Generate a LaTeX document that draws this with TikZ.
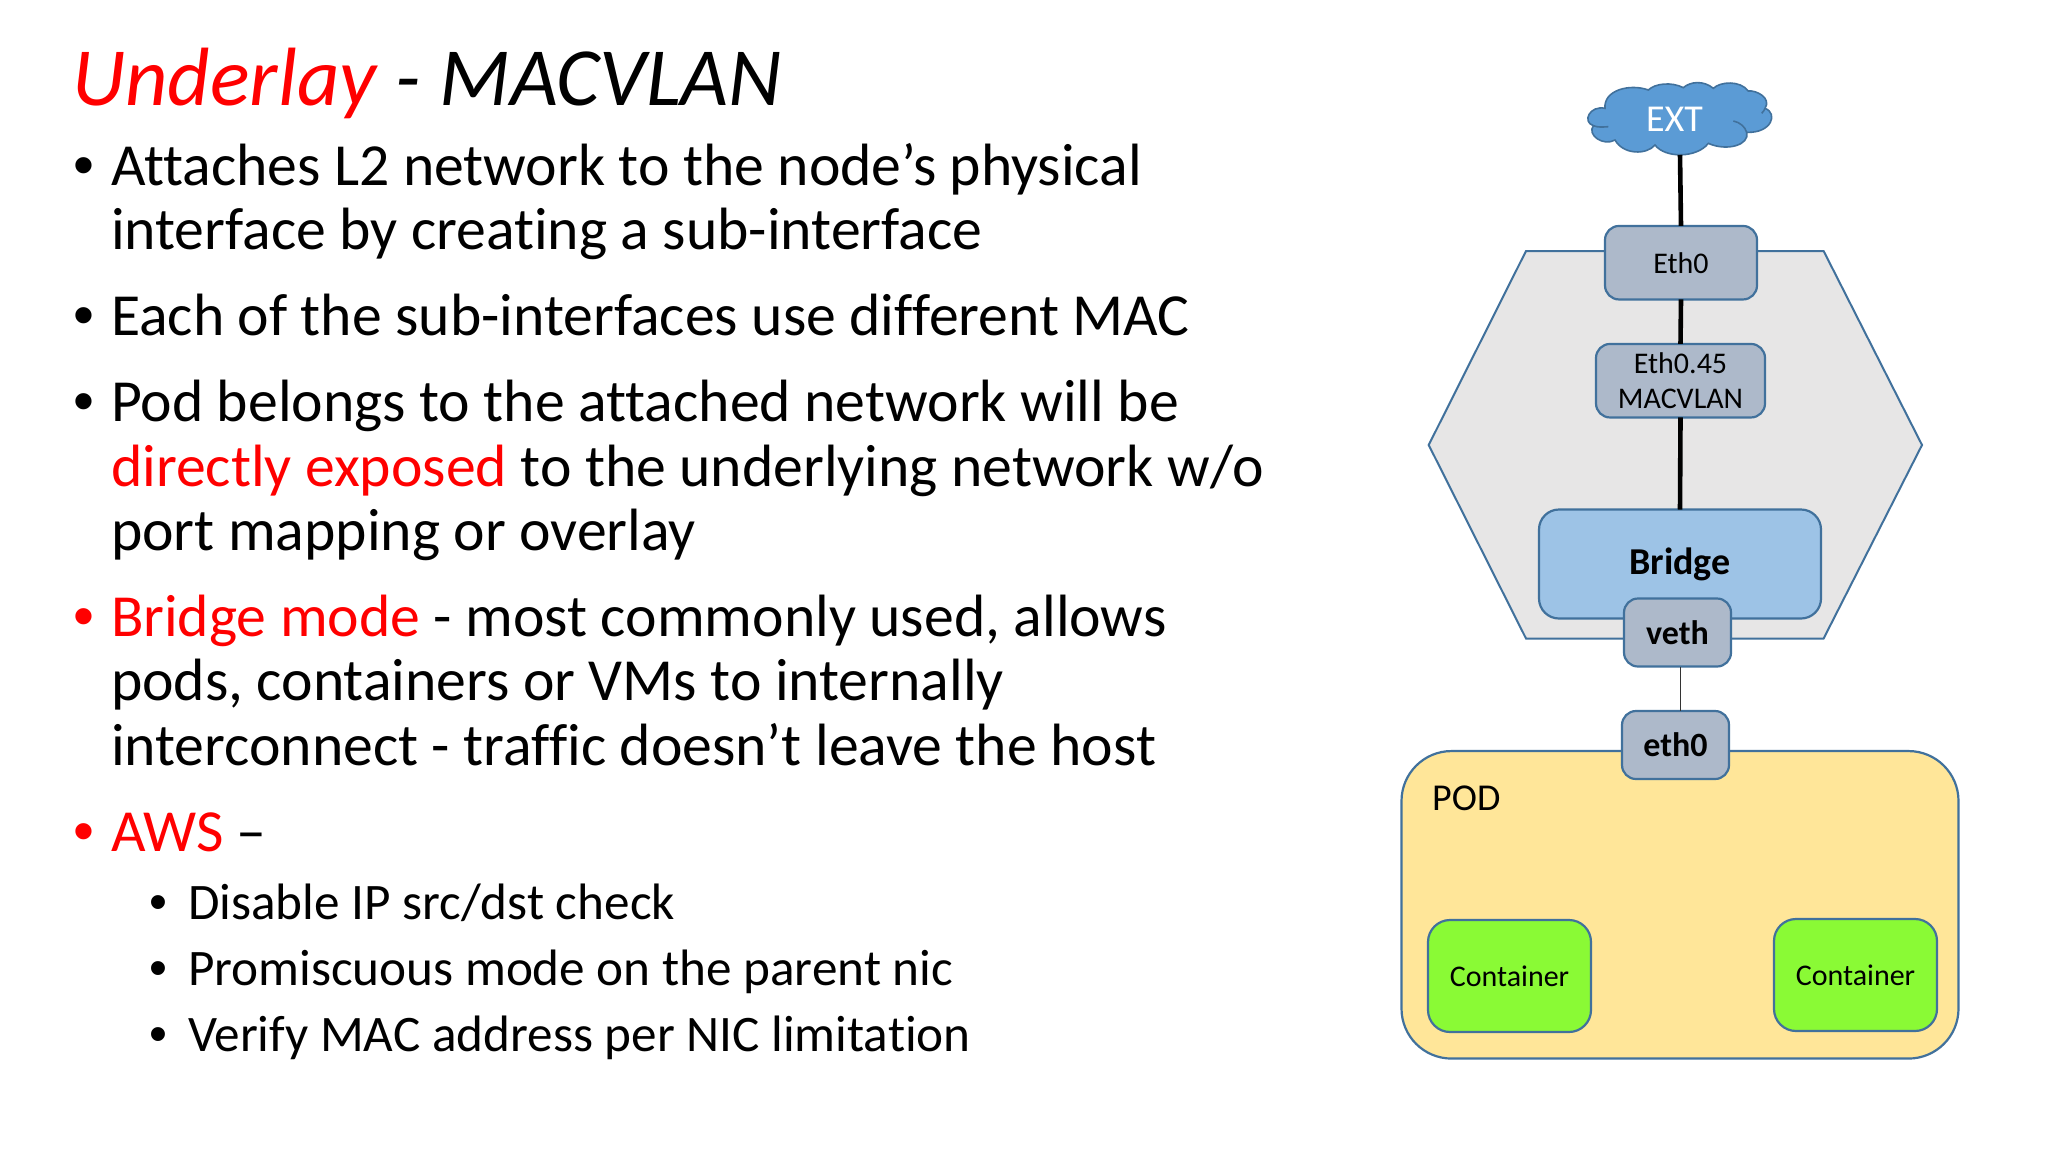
\documentclass[tikz,border=0pt]{standalone}
\usepackage{fontspec}
\setmainfont[Ligatures={NoCommon}]{Carlito}
\newfontfamily\bulletfont{Liberation Sans}
\definecolor{edge}{HTML}{41719C}
\definecolor{hexfill}{HTML}{E7E6E6}
\definecolor{ifacefill}{HTML}{ADB9CA}
\definecolor{bridgefill}{HTML}{9DC3E6}
\definecolor{podfill}{HTML}{FFE699}
\definecolor{contfill}{HTML}{8AFA35}
\definecolor{cloudfill}{HTML}{5B9BD5}
\definecolor{redtext}{HTML}{FF0000}
\tikzset{
  box/.style={draw=edge,line width=2.2pt,rounded corners=14pt,inner sep=0pt,outer sep=0pt,align=center},
  iface/.style={box,fill=ifacefill,text=black},
  body/.style={anchor=base west,inner sep=0pt,outer sep=0pt,font=\fontsize{59.7}{65}\selectfont},
  sub/.style={anchor=base west,inner sep=0pt,outer sep=0pt,font=\fontsize{51.2}{60}\selectfont},
  bigdot/.style={anchor=base west,inner sep=0pt,outer sep=0pt,font=\fontsize{59.7}{65}\bulletfont},
  smalldot/.style={anchor=base west,inner sep=0pt,outer sep=0pt,font=\fontsize{51.2}{60}\bulletfont},
  thick link/.style={line width=4.6pt,black},
  thin link/.style={line width=1.2pt,black!80}
}
\begin{document}
\begin{tikzpicture}[x=1pt,y=-1pt]
\useasboundingbox (0,0) rectangle (2048,1152);
\fill[white] (0,0) rectangle (2048,1152);
% title
\node[anchor=base west,inner sep=0pt,font=\fontsize{82.7}{90}\selectfont\itshape] (title) at (72,105) {\textcolor{redtext}{Underlay} - MACVLAN};
% bullets
\node[body] (b1a) at (111,185) {Attaches L2 network to the node’s physical};
\node[body] (b1b) at (111,249.5) {interface by creating a sub-interface};
\node[body] (b2) at (111,335.5) {Each of the sub-interfaces use different MAC};
\node[body] (b3a) at (111,421) {Pod belongs to the attached network will be};
\node[body] (b3b) at (111,486) {\textcolor{redtext}{directly exposed} to the underlying network w/o};
\node[body] (b3c) at (111,550.5) {port mapping or overlay};
\node[body] (b4a) at (111,636) {\textcolor{redtext}{Bridge mode} - most commonly used, allows};
\node[body] (b4b) at (111,700) {pods, containers or VMs to internally};
\node[body] (b4c) at (111,765) {interconnect - traffic doesn’t leave the host};
\node[body] (b5) at (111,851.5) {\textcolor{redtext}{AWS} –};
\node[bigdot] (d1) at (73,185) {•};
\node[bigdot] (d2) at (73,335.5) {•};
\node[bigdot] (d3) at (73,421) {•};
\node[bigdot,text=redtext] (d4) at (73,636) {•};
\node[bigdot,text=redtext] (d5) at (73,851.5) {•};
\node[sub] (s1) at (188,919.5) {Disable IP src/dst check};
\node[sub] (s2) at (188,985) {Promiscuous mode on the parent nic};
\node[sub] (s3) at (188,1051.5) {Verify MAC address per NIC limitation};
\node[smalldot] (e1) at (149,919.5) {•};
\node[smalldot] (e2) at (149,985) {•};
\node[smalldot] (e3) at (149,1051.5) {•};
% containers of the diagram
\draw[draw=edge,line width=2pt,fill=hexfill] (1526,251) -- (1823.6,251) -- (1922,445) -- (1823.6,638.5) -- (1526,638.5) -- (1428.7,445) -- cycle;
\node[box,fill=podfill,rounded corners=50pt,minimum width=557pt,minimum height=307.5pt] (pod) at (1680,904.8) {};
\node[anchor=base west,inner sep=0pt,font=\fontsize{38}{40}\selectfont] (podlabel) at (1432,810) {POD};
% cloud
\begin{scope}[shift={(1580,75)},x=0.33333pt,y=-0.33333pt]
\draw[draw=edge,line width=1.6pt,fill=cloudfill]
  (75,100) .. controls (30,90) and (5,140) .. (40,152)
  .. controls (20,180) and (70,215) .. (105,195)
  .. controls (130,240) and (200,240) .. (225,210)
  .. controls (255,250) and (350,250) .. (385,205)
  .. controls (440,230) and (510,210) .. (500,172)
  .. controls (575,175) and (595,115) .. (555,100)
  .. controls (575,70) and (530,45) .. (505,48)
  .. controls (480,15) and (420,20) .. (400,40)
  .. controls (370,15) and (330,20) .. (310,38)
  .. controls (275,20) and (225,25) .. (205,45)
  .. controls (150,25) and (70,45) .. cycle;
\draw[draw=edge,line width=1.6pt] (40,152) .. controls (55,158) and (70,156) .. (85,155);
\draw[draw=edge,line width=1.6pt] (460,138) .. controls (480,142) and (495,155) .. (500,172);
\draw[draw=edge,line width=1.6pt] (545,115) .. controls (550,110) and (553,105) .. (555,100);
\end{scope}
\coordinate (extfoot) at (1680,155);
\node[inner sep=0pt,text=white,font=\fontsize{38}{40}\selectfont] (ext) at (1674.5,119) {EXT};
% nodes
\node[iface,minimum width=152pt,minimum height=73.5pt,font=\fontsize{30}{34}\selectfont] (eth0up) at (1681,262.7) {Eth0};
\node[iface,minimum width=169pt,minimum height=73.5pt,font=\fontsize{30}{35}\selectfont] (macvlan) at (1680.5,380.7) {Eth0.45\\MACVLAN};
\node[box,fill=bridgefill,rounded corners=20pt,minimum width=282pt,minimum height=109pt,font=\fontsize{38}{40}\selectfont\bfseries] (bridge) at (1680,564) {\raisebox{-3pt}{Bridge}};
\node[iface,minimum width=107pt,minimum height=68pt,font=\fontsize{34}{36}\selectfont\bfseries] (veth) at (1677.5,632.5) {veth};
\node[iface,minimum width=107pt,minimum height=68pt,font=\fontsize{34}{36}\selectfont\bfseries] (eth0pod) at (1675.5,745) {eth0};
\node[box,fill=contfill,rounded corners=22pt,minimum width=163pt,minimum height=112pt,font=\fontsize{30}{34}\selectfont] (c1) at (1509.5,976) {Container};
\node[box,fill=contfill,rounded corners=22pt,minimum width=163pt,minimum height=112pt,font=\fontsize{30}{34}\selectfont] (c2) at (1855.5,975) {Container};
% connectors
\draw[thick link] (extfoot) -- (eth0up.north);
\draw[thick link] (eth0up.south) -- (macvlan.north);
\draw[thick link] (macvlan.south) -- (bridge.north);
\draw[thin link] ([xshift=3pt]veth.south) -- ([xshift=5pt]eth0pod.north);
\end{tikzpicture}
\end{document}
